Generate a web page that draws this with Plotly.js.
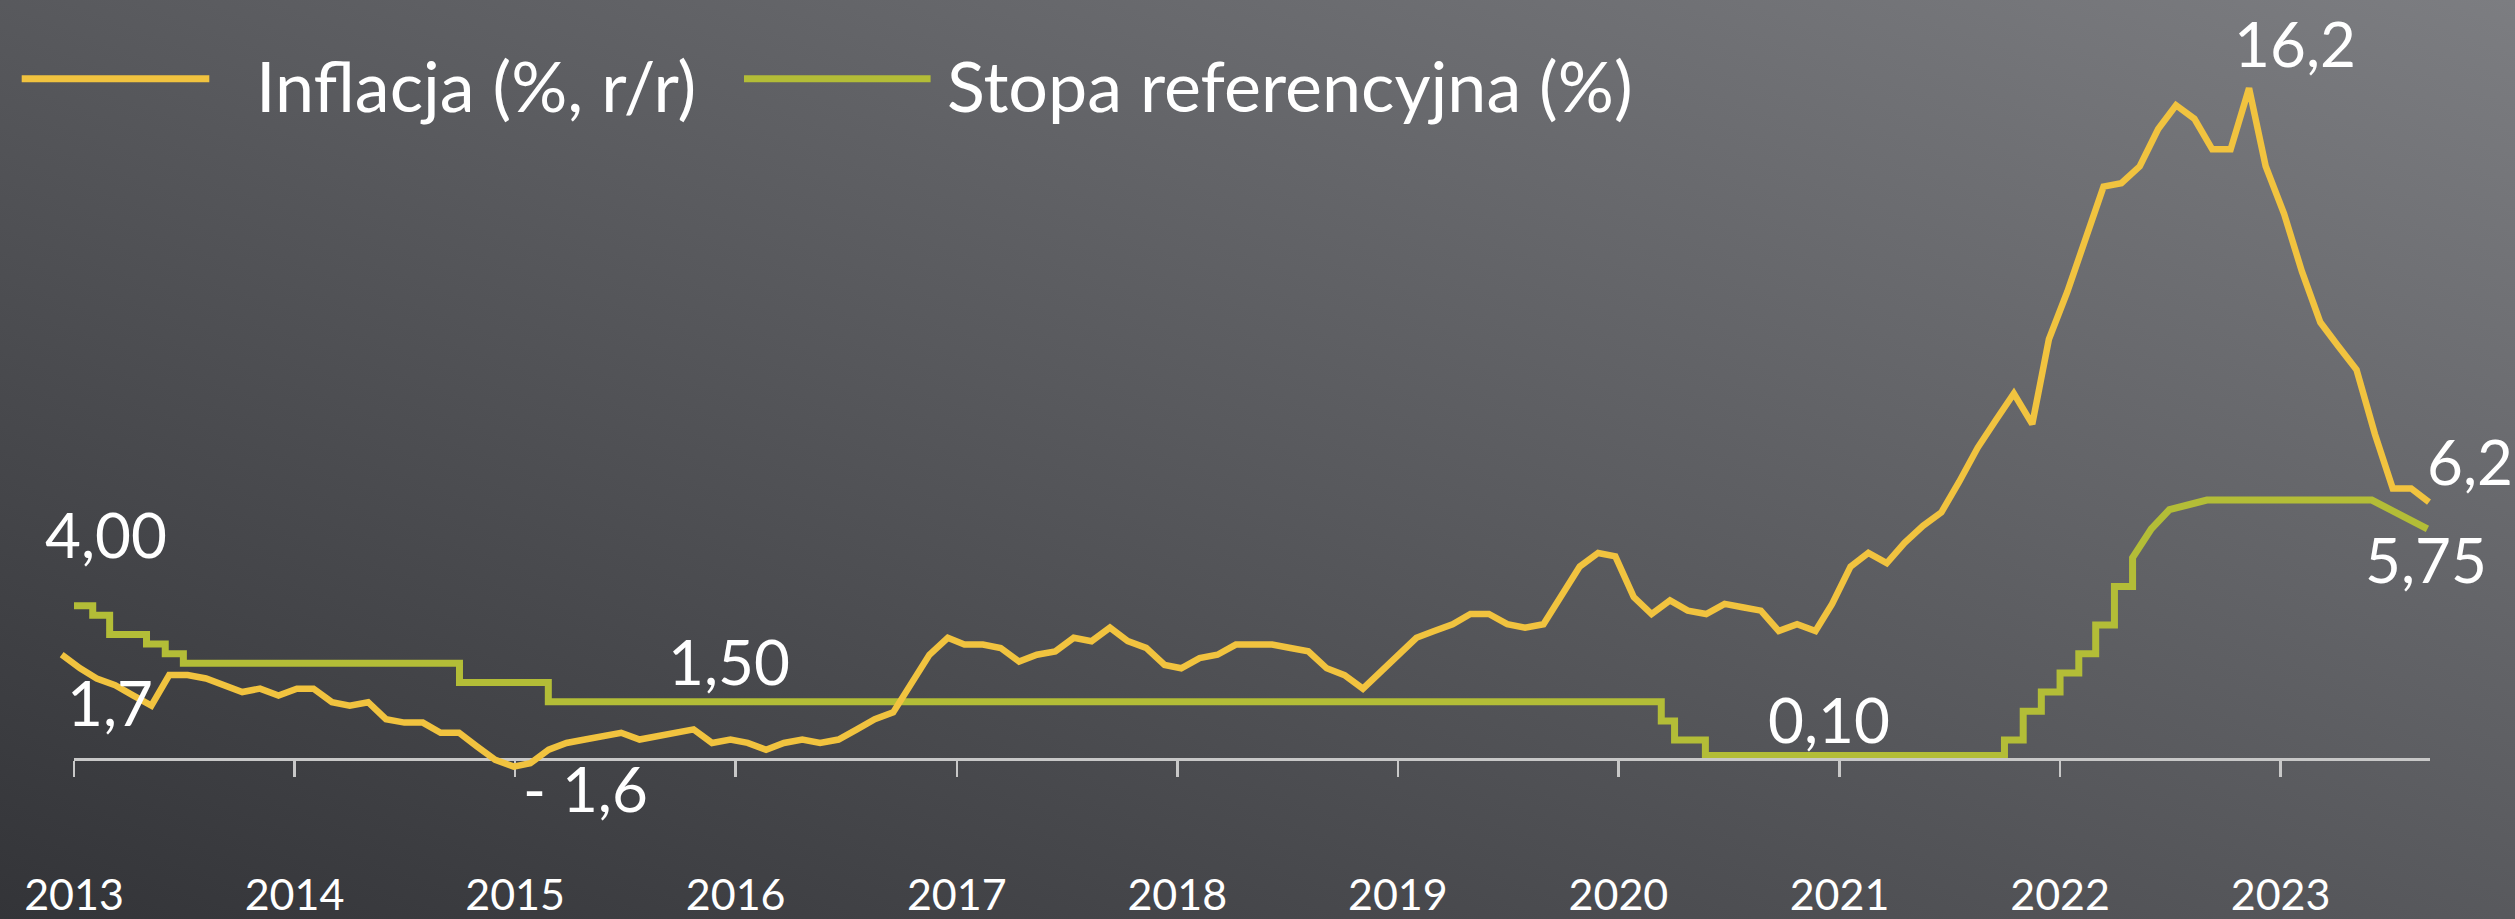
<!DOCTYPE html>
<html>
<head>
<meta charset="utf-8">
<script src="https://cdn.plot.ly/plotly-3.0.1.min.js"></script>
<style>
  html, body { margin: 0; padding: 0; background: #4a4b4f; }
  #chart {
    width: 2515px; height: 919px;
    background: linear-gradient(to top right, #333438 0%, #58595d 50%, #7c7d81 100%);
  }
</style>
</head>
<body>
<div id="chart"></div>
<script>
// ---------------- DATA ----------------
// Inflacja (%, r/r), monthly, Jan 2013 - Dec 2023
const inflationStartYear = 2013;
const inflation = [
  1.7, 1.3, 1.0, 0.8, 0.5, 0.2, 1.1, 1.1, 1.0, 0.8, 0.6, 0.7,      // 2013
  0.5, 0.7, 0.7, 0.3, 0.2, 0.3, -0.2, -0.3, -0.3, -0.6, -0.6, -1.0, // 2014
  -1.4, -1.6, -1.5, -1.1, -0.9, -0.8, -0.7, -0.6, -0.8, -0.7, -0.6, -0.5, // 2015
  -0.9, -0.8, -0.9, -1.1, -0.9, -0.8, -0.9, -0.8, -0.5, -0.2, 0.0, 0.8,  // 2016
  1.7, 2.2, 2.0, 2.0, 1.9, 1.5, 1.7, 1.8, 2.2, 2.1, 2.5, 2.1,      // 2017
  1.9, 1.4, 1.3, 1.6, 1.7, 2.0, 2.0, 2.0, 1.9, 1.8, 1.3, 1.1,      // 2018
  0.7, 1.2, 1.7, 2.2, 2.4, 2.6, 2.9, 2.9, 2.6, 2.5, 2.6, 3.4,      // 2019
  4.3, 4.7, 4.6, 3.4, 2.9, 3.3, 3.0, 2.9, 3.2, 3.1, 3.0, 2.4,      // 2020
  2.6, 2.4, 3.2, 4.3, 4.7, 4.4, 5.0, 5.5, 5.9, 6.8, 7.8, 8.6,      // 2021
  9.4, 8.5, 11.0, 12.4, 13.9, 15.5, 15.6, 16.1, 17.2, 17.9, 17.5, 16.6, // 2022
  16.6, 18.4, 16.1, 14.7, 13.0, 11.5, 10.8, 10.1, 8.2, 6.6, 6.6, 6.2    // 2023
];

// Stopa referencyjna (%), change points (duplicated dates = vertical steps)
const rateDates = [
  '2013-01-01','2013-02-01','2013-02-01','2013-03-01','2013-03-01','2013-05-01','2013-05-01',
  '2013-06-01','2013-06-01','2013-07-01','2013-07-01','2014-10-01','2014-10-01','2015-02-25',
  '2015-02-25','2020-03-12','2020-03-12','2020-04-03','2020-04-03','2020-05-24','2020-05-24',
  '2021-10-01','2021-10-01','2021-11-01','2021-11-01','2021-12-01','2021-12-01','2022-01-01',
  '2022-01-01','2022-02-01','2022-02-01','2022-03-01','2022-03-01','2022-04-01','2022-04-01',
  '2022-05-01','2022-05-01','2022-06-01','2022-07-01','2022-09-01','2023-06-01','2023-09-01'
];
const rateValues = [
  4.00, 4.00, 3.75, 3.75, 3.25, 3.25, 3.00,
  3.00, 2.75, 2.75, 2.50, 2.50, 2.00, 2.00,
  1.50, 1.50, 1.00, 1.00, 0.50, 0.50, 0.10,
  0.10, 0.50, 0.50, 1.25, 1.25, 1.75, 1.75,
  2.25, 2.25, 2.75, 2.75, 3.50, 3.50, 4.50,
  4.50, 5.25, 6.00, 6.50, 6.75, 6.75, 6.00
];

const yearLabels = ['2013','2014','2015','2016','2017','2018','2019','2020','2021','2022','2023'];

const seriesNames = ['Inflacja (%, r/r)', 'Stopa referencyjna (%)'];
const pointLabels = { first: '1,7', min: '- 1,6', peak: '16,2', last: '6,2',
                      rateStart: '4,00', rateMid: '1,50', rateLow: '0,10', rateEnd: '5,75' };

// monthly category dates for inflation
const inflationDates = inflation.map((_, i) => {
  const y = inflationStartYear + Math.floor(i / 12), m = (i % 12) + 1;
  return y + '-' + String(m).padStart(2, '0') + '-01';
});

// ---------------- LAYOUT HELPERS ----------------
const W = 2515, H = 919;
const ms = s => Date.parse(s + 'T00:00:00Z');
const fmt = v => new Date(v).toISOString().replace('T', ' ').replace('Z', '');
function dateRange(d0, p0, d1, p1, left, right) {
  const k = (ms(d1) - ms(d0)) / (p1 - p0);
  return [fmt(ms(d0) + (left - p0) * k), fmt(ms(d0) + (right - p0) * k)];
}
function valRange(zeroPx, pxPerUnit) {
  return [-(H - zeroPx) / pxPerUnit, zeroPx / pxPerUnit];
}
const px2x = p => p / W;          // paper x from pixel
const px2y = p => 1 - p / H;      // paper y from pixel

const axisLeft = 74, axisRight = 2430;
const xRange = dateRange('2013-01-01', 74, '2023-01-01', 2280.6, axisLeft, axisRight);
const x2Range = dateRange('2013-01-01', 61.7, '2023-12-01', 2429, 0, W);
const yRange = valRange(759.3, 38.4);
const y2Range = valRange(712.4, 33.92);
const axisPos = (0 - yRange[0]) / (yRange[1] - yRange[0]);

const FONT = 'Lato, "Open Sans", "Liberation Sans", sans-serif';
const YELLOW = '#F1C33F', GREEN = '#B3BD37';
const colors = [YELLOW, GREEN];

const traces = [
  { x: inflationDates, y: inflation, name: seriesNames[0], type: 'scatter', mode: 'lines',
    xaxis: 'x2', yaxis: 'y2', line: { color: YELLOW, width: 6.5 } },
  { x: rateDates, y: rateValues, name: seriesNames[1], type: 'scatter', mode: 'lines',
    xaxis: 'x', yaxis: 'y', line: { color: GREEN, width: 7 } }
];

function ann(text, ref, x, y, xshift, yshift, xanchor) {
  return { text, xref: ref[0], yref: ref[1], x, y, xshift, yshift,
           xanchor: xanchor || 'center', yanchor: 'middle', showarrow: false,
           font: { family: FONT, size: 62, color: '#ffffff' } };
}
const I = ['x2', 'y2'], R = ['x', 'y'];
const n = inflation.length, rn = rateValues.length;
const iMin = inflation.indexOf(Math.min(...inflation));
const iMax = inflation.indexOf(Math.max(...inflation));

const annotations = [
  ann(pointLabels.first, I, inflationDates[0], inflation[0], 48, -47),
  ann(pointLabels.min, I, inflationDates[iMin], inflation[iMin], 72, -21),
  ann(pointLabels.peak, I, inflationDates[iMax], inflation[iMax], 46, 45),
  ann(pointLabels.last, I, inflationDates[n - 1], inflation[n - 1], -4, 41, 'left'),
  ann(pointLabels.rateStart, R, rateDates[0], rateValues[0], 32, 72),
  ann(pointLabels.rateMid, R, rateDates[14], rateValues[14], 181, 41),
  ann(pointLabels.rateLow, R, rateDates[20], rateValues[20], 124, 36),
  ann(pointLabels.rateEnd, R, rateDates[rn - 1], rateValues[rn - 1], -1, -30)
];

// legend (drawn as line samples + text, placed as in the reference)
const legendItems = [
  { x0: 21.7, x1: 209.3, tx: 254.9 },
  { x0: 744, x1: 930.6, tx: 945.8 }
];
const legendLineY = 78.7, legendTextY = 85;
const shapes = legendItems.map((it, k) => ({
  type: 'line', xref: 'paper', yref: 'paper',
  x0: px2x(it.x0), x1: px2x(it.x1), y0: px2y(legendLineY), y1: px2y(legendLineY),
  line: { color: colors[k], width: 7 }
}));
legendItems.forEach((it, k) => annotations.push({
  text: seriesNames[k], xref: 'paper', yref: 'paper', x: px2x(it.tx), y: px2y(legendTextY),
  xanchor: 'left', yanchor: 'middle', showarrow: false, borderpad: 0,
  font: { family: FONT, size: 70, color: '#ffffff' }
}));

const layout = {
  width: W, height: H,
  margin: { l: 0, r: 0, t: 0, b: 0, pad: 0 },
  paper_bgcolor: 'rgba(0,0,0,0)', plot_bgcolor: 'rgba(0,0,0,0)',
  font: { family: FONT, color: '#ffffff' },
  hovermode: false,
  showlegend: false,
  xaxis: {
    type: 'date', domain: [axisLeft / W, axisRight / W], range: xRange,
    anchor: 'free', position: axisPos,
    showline: true, linecolor: '#c8c8c8', linewidth: 3,
    ticks: 'outside', ticklen: 16, tickwidth: 2.5, tickcolor: '#c8c8c8',
    tickmode: 'array', tickvals: yearLabels.map(y => y + '-01-01'), ticktext: yearLabels,
    tickfont: { family: FONT, size: 43, color: '#ffffff' }, ticklabelstandoff: 81,
    showgrid: false, zeroline: false, fixedrange: true
  },
  yaxis: { domain: [0, 1], range: yRange, anchor: 'x', visible: false, showgrid: false, zeroline: false },
  xaxis2: { type: 'date', domain: [0, 1], range: x2Range, anchor: 'y2', visible: false, showgrid: false, zeroline: false },
  yaxis2: { domain: [0, 1], range: y2Range, anchor: 'x2', visible: false, showgrid: false, zeroline: false },
  shapes,
  annotations
};

Plotly.newPlot('chart', traces, layout, { staticPlot: true, displayModeBar: false });
</script>
</body>
</html>
